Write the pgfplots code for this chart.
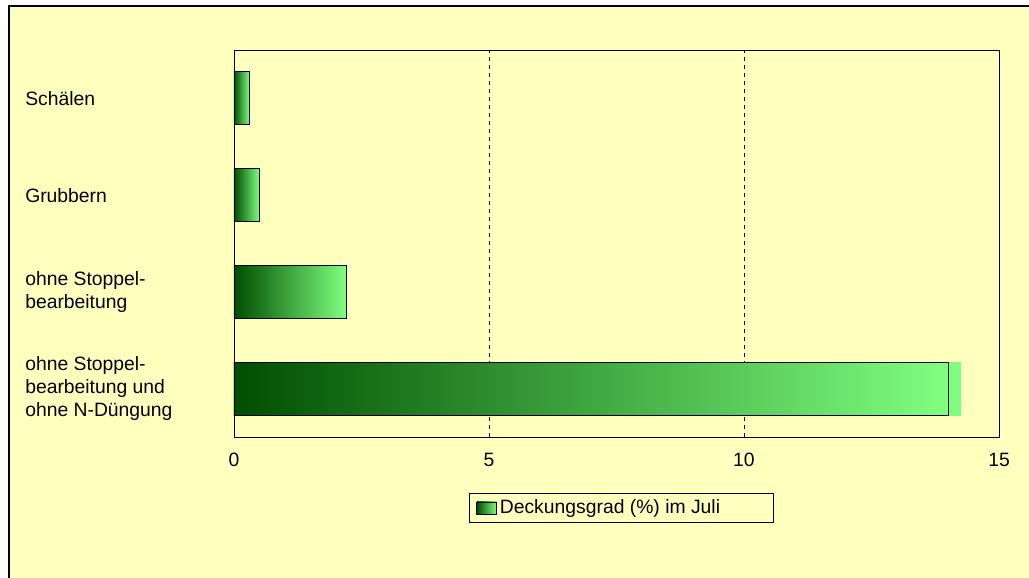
\documentclass[border=0pt]{standalone}
\usepackage{pgfplots}
\pgfplotsset{compat=1.18}
\usepackage{fontspec}
\setmainfont{Liberation Sans}
\definecolor{bgyellow}{RGB}{255,255,190}
\definecolor{dkgreen}{RGB}{0,78,0}
\definecolor{ltgreen}{RGB}{128,255,128}
\begin{document}
\begin{tikzpicture}
\useasboundingbox (0,0) rectangle (771.75pt,433.5pt);
\fill[white] (0,0) rectangle (771.75pt,433.5pt);
\fill[bgyellow] (6.75pt,0) rectangle (771.75pt,429pt);
\draw[black, line width=1.2pt] (6.75pt,0) -- (6.75pt,429pt) -- (771.75pt,429pt);
\begin{axis}[
  at={(175.5pt,105.75pt)}, anchor=south west,
  scale only axis, width=573.75pt, height=290.25pt,
  xmin=0, xmax=15, ymin=-0.5, ymax=3.5,
  xtick={0,5,10,15},
  ytick={0,1,2,3},
  yticklabels={{ohne Stoppel-\\bearbeitung und\\ohne N-Düngung},{ohne Stoppel-\\bearbeitung},Grubbern,Schälen},
  yticklabel style={anchor=west, align=left, inner sep=0pt, xshift=-156.75pt},
  xticklabel style={inner sep=0pt, yshift=-12pt},
  major tick length=0pt,
  xmajorgrids, major grid style={dashed, black, thin},
  axis line style={black, thin},
  font=\fontsize{14.5}{17}\selectfont,
  /pgf/number format/assume math mode=true,
  axis background/.style={fill=bgyellow},
  legend style={at={(0.5065,-0.1447)}, anchor=north, draw=black, fill=bgyellow,
    inner xsep=5pt, inner ysep=3pt, font=\fontsize{14.5}{17}\selectfont},
  legend image code/.code={\draw[left color=dkgreen, right color=ltgreen, draw=black] (0pt,-4.5pt) rectangle (15pt,4.5pt);},
  every axis plot/.append style={xbar, bar width=39.75pt, bar shift=0pt, left color=dkgreen, right color=ltgreen},
]
\addplot[draw=none, forget plot] coordinates {(14.25,0)};
\addplot[draw=black, semithick] coordinates {(14.0,0)};
\addlegendentry{\makebox[198pt][l]{Deckungsgrad (\%) im Juli}}
\addplot[draw=black, semithick, forget plot] coordinates {(2.2,1)};
\addplot[draw=black, semithick, forget plot] coordinates {(0.5,2)};
\addplot[draw=black, semithick, forget plot] coordinates {(0.3,3)};
\end{axis}
\end{tikzpicture}
\end{document}
